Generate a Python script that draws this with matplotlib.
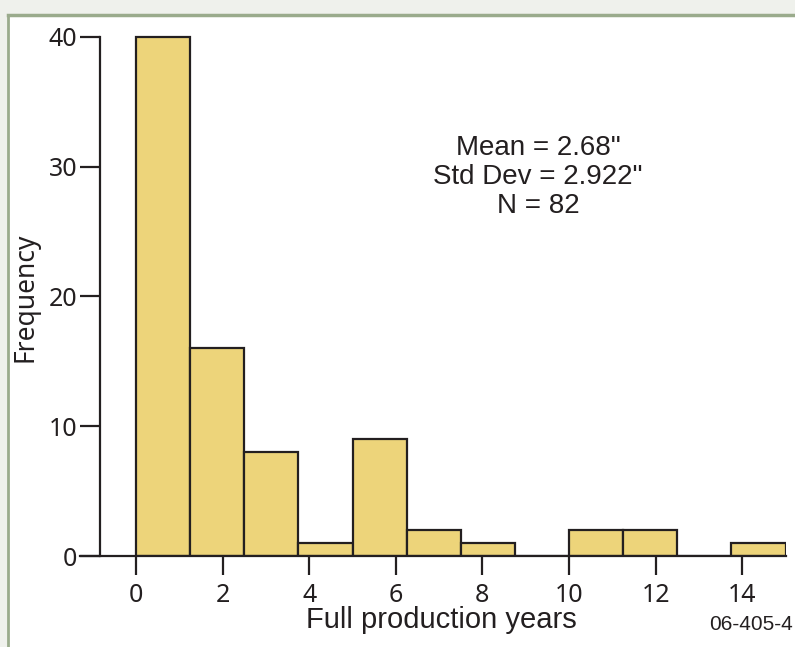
import matplotlib
matplotlib.use('Agg')
import matplotlib.pyplot as plt
import numpy as np
from matplotlib.patches import Rectangle
from matplotlib.lines import Line2D

# ---- data ----
bin_edges = [0, 1.25, 2.5, 3.75, 5, 6.25, 7.5, 8.75, 10, 11.25, 12.5, 13.75, 15]
counts = [40, 16, 8, 1, 9, 2, 1, 0, 2, 2, 0, 1]
x_ticks = [0, 2, 4, 6, 8, 10, 12, 14]
y_ticks = [0, 10, 20, 30, 40]
stats_lines = ['Mean = 2.68"', 'Std Dev = 2.922"', 'N = 82']
x_label = 'Full production years'
y_label = 'Frequency'
figure_code = '06-405-4'

W, H = 795, 647
INK = '#231f20'
BAR = '#edd47a'
BORDER = '#9aab8c'

fig = plt.figure(figsize=(W / 100, H / 100), dpi=100, facecolor='#eff1ec')

# white panel with border on top and left
top = 1 - 15 / H
left = 8 / W
fig.add_artist(Rectangle((left, 0), 1 - left, top, transform=fig.transFigure,
                         facecolor='white', edgecolor='none', zorder=0))
fig.add_artist(Line2D([left, left], [0, top], transform=fig.transFigure,
                      color=BORDER, lw=2, zorder=1))
fig.add_artist(Line2D([left, 1], [top, top], transform=fig.transFigure,
                      color=BORDER, lw=2.5, zorder=1))

ax = fig.add_axes([80 / W, (H - 556) / H, 706 / W, 532 / H])
ax.patch.set_visible(False)
ax.set_xlim(-1.293, 15.01)
ax.set_ylim(0, 41)

edges = np.array(bin_edges)
ax.bar(edges[:-1], counts, width=np.diff(edges), align='edge',
       color=BAR, edgecolor=INK, linewidth=1.6, zorder=3)

for s in ['top', 'right']:
    ax.spines[s].set_visible(False)
ax.spines['left'].set_position(('data', -0.831))
ax.spines['left'].set_bounds(0, 40)
ax.spines['left'].set_linewidth(1.6)
ax.spines['left'].set_color(INK)
ax.spines['bottom'].set_linewidth(1.6)
ax.spines['bottom'].set_color(INK)
ax.spines['bottom'].set_zorder(4)

ax.set_xticks(x_ticks)
ax.set_yticks(y_ticks)
ax.tick_params(axis='y', length=14.4, width=1.6, direction='out', pad=2,
               labelsize=18, colors=INK)
ax.tick_params(axis='x', length=13.7, width=1.6, direction='out', pad=6,
               labelsize=18, colors=INK)
for lab in ax.get_xticklabels() + ax.get_yticklabels():
    lab.set_fontfamily('Noto Sans')

fig.text(538 / W, 1 - 177 / H, '\n'.join(stats_lines), ha='center', va='center',
         fontsize=20, linespacing=1.15, family='Liberation Sans', color=INK)
fig.text(441 / W, 1 - 628 / H, x_label, ha='center', va='baseline',
         fontsize=21, family='Liberation Sans', color=INK)
fig.text(793 / W, 1 - 630 / H, figure_code, ha='right', va='baseline',
         fontsize=15, family='Liberation Sans', color=INK)
fig.text(26 / W, 1 - 297 / H, y_label, ha='center', va='center', rotation=90,
         fontsize=19, family='Noto Sans', color=INK)

fig.savefig('out.png', dpi=100, facecolor=fig.get_facecolor())
